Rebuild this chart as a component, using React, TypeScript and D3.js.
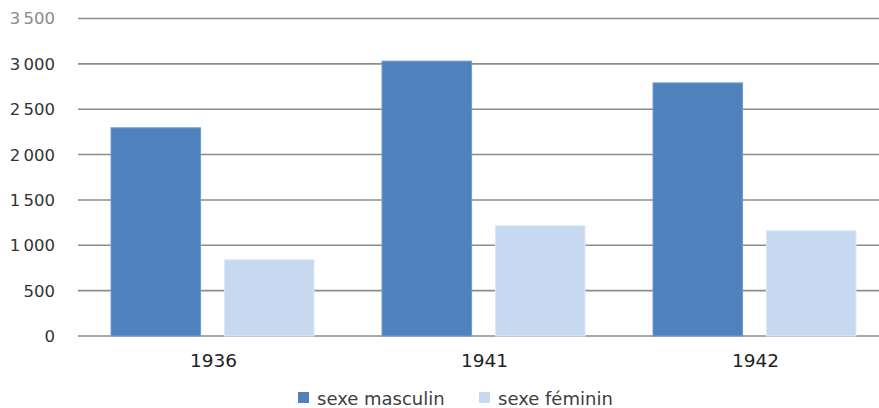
import * as d3 from 'd3';
import * as React from 'react';

const years = ['1936', '1941', '1942'];
const seriesNames = ['sexe masculin', 'sexe féminin'];
const masculin = [2295, 3030, 2790];
const feminin = [840, 1215, 1160];
const yTicks = [0, 500, 1000, 1500, 2000, 2500, 3000, 3500];

const colors = ['#4F81BD', '#C6D9F1'];
const borders = ['#6E9AD0', '#DCE8F7'];

const W = 879;
const H = 408;
const FONT = '"DejaVu Sans", Verdana, sans-serif';

const fmt = (v: number) => (v >= 1000 ? d3.format(',')(v).replace(',', '\u202F') : String(v));

export default function App() {
  const left = 78;
  const bandW = 271;
  const x = d3.scaleBand<string>()
    .domain(years)
    .range([left, left + bandW * years.length]);
  const inner = d3.scaleBand<number>()
    .domain([0, 1])
    .range([0, x.bandwidth()])
    .paddingInner(0.21)
    .paddingOuter(0.3);
  const y = d3.scaleLinear().domain([0, 3500]).range([336, 18.5]);

  const series = [masculin, feminin];

  return (
    <svg width={W} height={H} style={{ position: 'absolute', left: 0, top: 0, background: '#fff' }}>
      <g>
        {yTicks.map((t) => (
          <g key={t}>
            <line x1={left} x2={W} y1={y(t)} y2={y(t)} stroke='#8C8C8C' strokeWidth={1.6} />
            <text x={55} y={y(t)} dy='0.36em' textAnchor='end' fontFamily={FONT} fontSize={16.5}
              fill={t === 3500 ? '#8a8a8a' : '#333'}>
              {fmt(t)}
            </text>
          </g>
        ))}
      </g>
      {series.map((vals, si) => (
        <g key={si}>
          {years.map((yr, i) => (
            <rect key={yr}
              x={x(yr)! + inner(si)! - 1}
              y={y(vals[i])}
              width={inner.bandwidth()}
              height={y(0) - y(vals[i])}
              fill={colors[si]}
              stroke={borders[si]}
              strokeWidth={1}
            />
          ))}
        </g>
      ))}
      {years.map((yr) => (
        <text key={yr} x={x(yr)! + x.bandwidth() / 2} y={367} textAnchor='middle'
          fontFamily={FONT} fontSize={18.5} fill='#222'>
          {yr}
        </text>
      ))}
      <g fontFamily={FONT} fontSize={18} fill='#404040'>
        {seriesNames.map((n, i) => {
          const lx = i === 0 ? 298 : 479;
          return (
            <g key={n}>
              <rect x={lx} y={392} width={11} height={11} fill={colors[i]} />
              <text x={lx + 19} y={405}>{n}</text>
            </g>
          );
        })}
      </g>
    </svg>
  );
}
